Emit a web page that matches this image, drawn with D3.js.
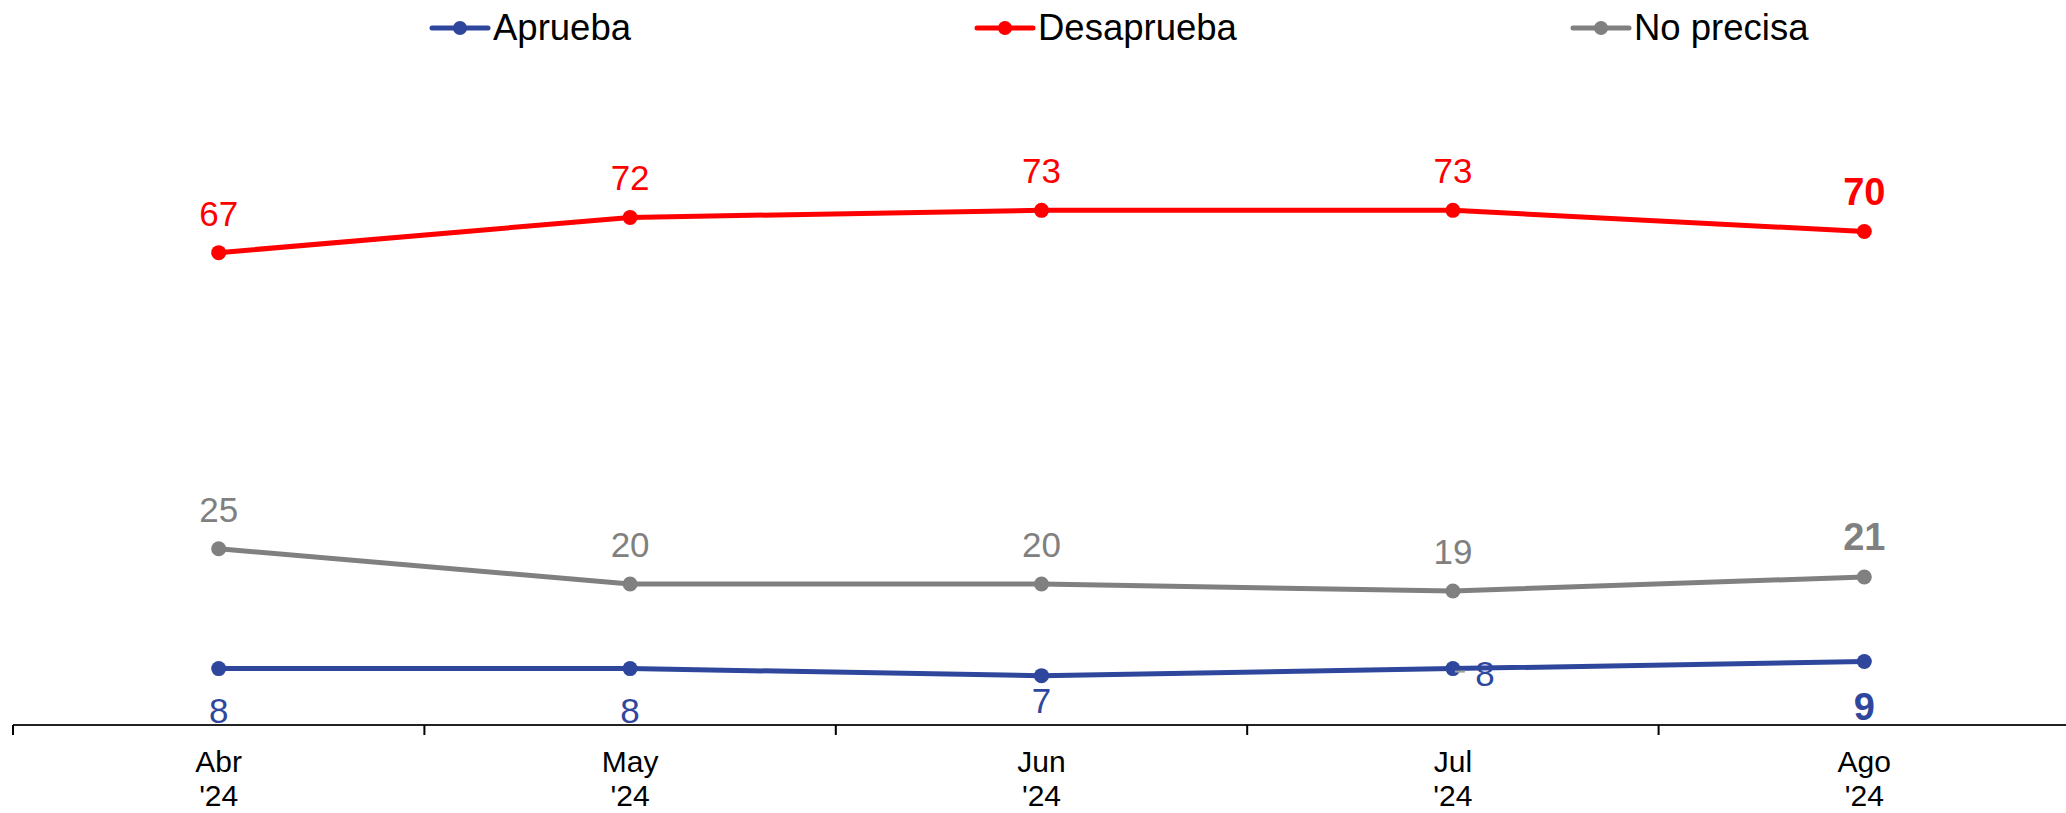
<!DOCTYPE html>
<html>
<head>
<meta charset="utf-8">
<script src="https://cdn.jsdelivr.net/npm/d3@7"></script>
<style>
  html, body { margin: 0; padding: 0; background: #fff; }
  svg { display: block; font-family: "Liberation Sans", Arial, sans-serif; }
</style>
</head>
<body>
<svg id="chart" width="2066" height="813"></svg>
<script>
const months = ["Abr", "May", "Jun", "Jul", "Ago"];
const years = ["'24", "'24", "'24", "'24", "'24"];
const aprueba = [8, 8, 7, 8, 9];
const desaprueba = [67, 72, 73, 73, 70];
const noPrecisa = [25, 20, 20, 19, 21];
const seriesNames = ["Aprueba", "Desaprueba", "No precisa"];
const seriesColors = ["#2e479c", "#ff0000", "#808080"];

const W = 2066, H = 813;
const svg = d3.select("#chart");

const x = d3.scaleBand().domain(d3.range(months.length)).range([13, 2070]).padding(0);
const y = d3.scaleLinear().domain([0, 100]).range([725, 20]);
const cx = i => x(i) + x.bandwidth() / 2;

// axis
const axisG = svg.append("g").attr("transform", `translate(0,${y(0)})`);
axisG.append("line").attr("x1", 13).attr("x2", W).attr("y1", 0).attr("y2", 0)
  .attr("stroke", "#222").attr("stroke-width", 2);
axisG.selectAll("line.tick").data(d3.range(months.length)).join("line")
  .attr("class", "tick")
  .attr("x1", i => x(i)).attr("x2", i => x(i))
  .attr("y1", 0).attr("y2", 10)
  .attr("stroke", "#000").attr("stroke-width", 2);
const lbl = axisG.selectAll("text.m").data(d3.range(months.length)).join("text")
  .attr("class", "m")
  .attr("x", i => cx(i)).attr("text-anchor", "middle")
  .attr("font-size", 30).attr("fill", "#000");
lbl.append("tspan").attr("x", i => cx(i)).attr("y", 47).text(i => months[i]);
lbl.append("tspan").attr("x", i => cx(i)).attr("y", 81).text(i => years[i]);

const seriesData = [aprueba, desaprueba, noPrecisa];
const line = d3.line().x((d, i) => cx(i)).y(d => y(d));

// draw order: gray, blue, red
[2, 0, 1].forEach(s => {
  const data = seriesData[s];
  const g = svg.append("g");
  g.append("path").datum(data).attr("d", line)
    .attr("fill", "none").attr("stroke", seriesColors[s]).attr("stroke-width", 5)
    .attr("stroke-linejoin", "round");
  g.selectAll("circle").data(data).join("circle")
    .attr("cx", (d, i) => cx(i)).attr("cy", d => y(d)).attr("r", 7.5)
    .attr("fill", seriesColors[s]);
});

// labels
function labelsAbove(s) {
  const data = seriesData[s];
  const last = data.length - 1;
  svg.append("g").selectAll("text").data(data).join("text")
    .attr("x", (d, i) => cx(i))
    .attr("y", (d, i) => y(d) - 27)
    .attr("text-anchor", "middle")
    .attr("font-size", (d, i) => i === last ? 38 : 35)
    .attr("font-weight", (d, i) => i === last ? "bold" : "normal")
    .attr("fill", seriesColors[s])
    .text(d => d);
}
labelsAbove(1);
labelsAbove(2);

// Aprueba labels below
{
  const s = 0, data = aprueba, last = data.length - 1;
  const g = svg.append("g");
  data.forEach((d, i) => {
    if (i === 3) {
      g.append("line").attr("x1", cx(i) + 2).attr("x2", cx(i) + 12)
        .attr("y1", y(d) + 3).attr("y2", y(d) + 3)
        .attr("stroke", "#a0a0a0").attr("stroke-width", 2);
      g.append("text").attr("x", cx(i) + 32).attr("y", y(d) + 17)
        .attr("text-anchor", "middle").attr("font-size", 35)
        .attr("fill", seriesColors[s]).text(d);
    } else {
      g.append("text").attr("x", cx(i))
        .attr("y", i === last ? y(0) - 5 : (d < 8 ? y(0) - 12 : y(0) - 2))
        .attr("text-anchor", "middle")
        .attr("font-size", i === last ? 38 : 35)
        .attr("font-weight", i === last ? "bold" : "normal")
        .attr("fill", seriesColors[s]).text(d);
    }
  });
}

// legend
const legendX = [432, 977, 1573];
const lg = svg.append("g").attr("transform", "translate(0,28)");
seriesNames.forEach((name, k) => {
  const g = lg.append("g").attr("transform", `translate(${legendX[k]},0)`);
  g.append("line").attr("x1", 0).attr("x2", 56).attr("y1", 0).attr("y2", 0)
    .attr("stroke", seriesColors[k]).attr("stroke-width", 5).attr("stroke-linecap", "round");
  g.append("circle").attr("cx", 28).attr("cy", 0).attr("r", 7).attr("fill", seriesColors[k]);
  g.append("text").attr("x", 61).attr("y", 12).attr("font-size", 36.5).attr("fill", "#000").text(name);
});
</script>
</body>
</html>
